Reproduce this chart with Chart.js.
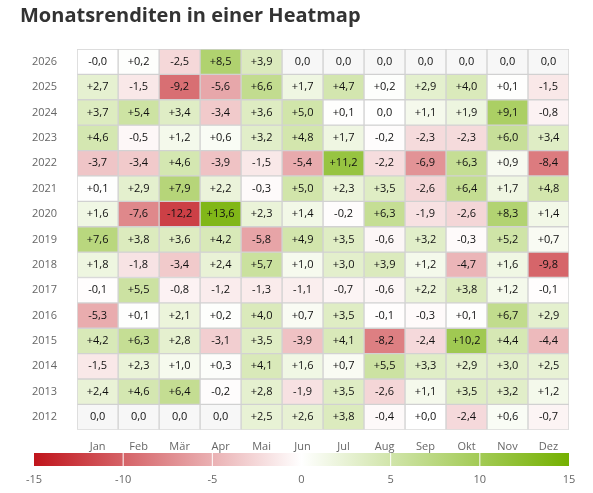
<!DOCTYPE html>
<html>
<head>
<meta charset="utf-8">
<script src="https://cdn.jsdelivr.net/npm/chart.js@4/dist/chart.umd.min.js"></script>
<style>
  html, body { margin: 0; padding: 0; background: #fff; }
  #wrap { width: 593px; height: 493px; }
</style>
</head>
<body>
<div id="wrap"><canvas id="heat"></canvas></div>
<script>
// Daten
const months = ['Jan', 'Feb', 'Mär', 'Apr', 'Mai', 'Jun', 'Jul', 'Aug', 'Sep', 'Okt', 'Nov', 'Dez'];
const years = [2026, 2025, 2024, 2023, 2022, 2021, 2020, 2019, 2018, 2017, 2016, 2015, 2014, 2013, 2012];
// null = keine Daten (grau, "0,0")
const returns = [
    [-0.01, 0.2, -2.5, 8.5, 3.9, null, null, null, null, null, null, null],
    [2.7, -1.5, -9.2, -5.6, 6.6, 1.7, 4.7, 0.2, 2.9, 4.0, 0.1, -1.5],
    [3.7, 5.4, 3.4, -3.4, 3.6, 5.0, 0.1, 0, 1.1, 1.9, 9.1, -0.8],
    [4.6, -0.5, 1.2, 0.6, 3.2, 4.8, 1.7, -0.2, -2.3, -2.3, 6.0, 3.4],
    [-3.7, -3.4, 4.6, -3.9, -1.5, -5.4, 11.2, -2.2, -6.9, 6.3, 0.9, -8.4],
    [0.1, 2.9, 7.9, 2.2, -0.3, 5.0, 2.3, 3.5, -2.6, 6.4, 1.7, 4.8],
    [1.6, -7.6, -12.2, 13.6, 2.3, 1.4, -0.2, 6.3, -1.9, -2.6, 8.3, 1.4],
    [7.6, 3.8, 3.6, 4.2, -5.8, 4.9, 3.5, -0.6, 3.2, -0.3, 5.2, 0.7],
    [1.8, -1.8, -3.4, 2.4, 5.7, 1.0, 3.0, 3.9, 1.2, -4.7, 1.6, -9.8],
    [-0.1, 5.5, -0.8, -1.2, -1.3, -1.1, -0.7, -0.6, 2.2, 3.8, 1.2, -0.1],
    [-5.3, 0.1, 2.1, 0.2, 4.0, 0.7, 3.5, -0.1, -0.3, 0.1, 6.7, 2.9],
    [4.2, 6.3, 2.8, -3.1, 3.5, -3.9, 4.1, -8.2, -2.4, 10.2, 4.4, -4.4],
    [-1.5, 2.3, 1.0, 0.3, 4.1, 1.6, 0.7, 5.5, 3.3, 2.9, 3.0, 2.5],
    [2.4, 4.6, 6.4, -0.2, 2.8, -1.9, 3.5, -2.6, 1.1, 3.5, 3.2, 1.2],
    [null, null, null, null, 2.5, 2.6, 3.8, -0.4, 0.01, -2.4, 0.6, -0.7]
];
const scaleTicks = [-15, -10, -5, 0, 5, 10, 15];

const RED = [192, 20, 27];
const GREEN = [116, 176, 0];
const FONT = '"Open Sans", sans-serif';

function cellColor(v) {
    if (v === null) return '#f7f7f7';
    const t = Math.min(Math.abs(v) / 15, 1);
    const c = v < 0 ? RED : GREEN;
    const mix = c.map(k => Math.round(255 + (k - 255) * t));
    return `rgb(${mix[0]}, ${mix[1]}, ${mix[2]})`;
}

function fmt(v) {
    if (v === null || v === 0) return '0,0';
    const s = Math.abs(v).toFixed(1).replace('.', ',');
    return (v < 0 ? '-' : '+') + s;
}

const datasets = years.map((y, i) => ({
    label: String(y),
    data: months.map(() => [y - 0.5, y + 0.5]),
    values: returns[i],
    backgroundColor: returns[i].map(cellColor),
    borderColor: '#d2d2d2',
    borderWidth: 1,
    borderSkipped: false,
    grouped: false,
    barPercentage: 1,
    categoryPercentage: 1
}));

const cellLabels = {
    id: 'cellLabels',
    afterDatasetsDraw(chart) {
        const ctx = chart.ctx;
        ctx.save();
        ctx.font = '11px ' + FONT;
        ctx.fillStyle = '#111';
        ctx.textAlign = 'center';
        ctx.textBaseline = 'middle';
        chart.data.datasets.forEach((ds, i) => {
            chart.getDatasetMeta(i).data.forEach((bar, j) => {
                const yc = (bar.y + bar.base) / 2;
                ctx.fillText(fmt(ds.values[j]), bar.x, yc);
            });
        });
        ctx.restore();
    }
};

const colorBar = {
    id: 'colorBar',
    afterDraw(chart) {
        const ctx = chart.ctx;
        const x0 = 34, x1 = chart.chartArea.right, top = 453, h = 13;
        const g = ctx.createLinearGradient(x0, 0, x1, 0);
        g.addColorStop(0, cellColor(-15));
        g.addColorStop(0.5, '#ffffff');
        g.addColorStop(1, cellColor(15));
        ctx.save();
        ctx.fillStyle = g;
        ctx.fillRect(x0, top, x1 - x0, h);
        ctx.font = '11px ' + FONT;
        ctx.fillStyle = '#666';
        ctx.textAlign = 'center';
        ctx.textBaseline = 'middle';
        scaleTicks.forEach(t => {
            const x = x0 + (t + 15) / 30 * (x1 - x0);
            if (t > -15 && t < 15) {
                ctx.strokeStyle = '#fff';
                ctx.lineWidth = 1;
                ctx.beginPath();
                ctx.moveTo(x, top);
                ctx.lineTo(x, top + h);
                ctx.stroke();
            }
            ctx.fillText(String(t), x, 480);
        });
        ctx.restore();
    }
};

new Chart(document.getElementById('heat'), {
    type: 'bar',
    data: { labels: months, datasets: datasets },
    options: {
        responsive: true,
        maintainAspectRatio: false,
        animation: false,
        layout: { padding: { left: 20, right: 24, top: 0, bottom: 38 } },
        plugins: {
            legend: { display: false },
            tooltip: { enabled: false },
            title: {
                display: true,
                text: 'Monatsrenditen in einer Heatmap',
                align: 'start',
                color: '#333',
                font: { family: FONT, size: 20, weight: 'bold' },
                padding: { top: 4, bottom: 21 }
            }
        },
        scales: {
            x: {
                grid: { display: false },
                border: { display: false },
                ticks: { color: '#666', font: { family: FONT, size: 11 }, padding: 2 }
            },
            y: {
                type: 'linear',
                min: 2011.5,
                max: 2026.5,
                afterBuildTicks: axis => { axis.ticks = years.map(v => ({ value: v })); },
                grid: { display: false },
                border: { display: false },
                ticks: { color: '#666', font: { family: FONT, size: 11 }, padding: 12, callback: v => String(v) }
            }
        }
    },
    plugins: [cellLabels, colorBar]
});
</script>
</body>
</html>
